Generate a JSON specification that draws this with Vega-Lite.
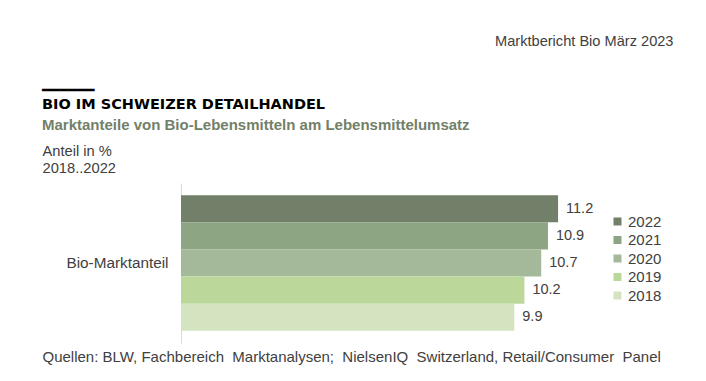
{
  "$schema": "https://vega.github.io/schema/vega-lite/v6.json",
  "autosize": "none",
  "width": 404,
  "height": 160,
  "padding": {"left": 181, "top": 183, "right": 121, "bottom": 38},
  "background": "white",
  "config": {"view": {"stroke": null}, "font": "Liberation Sans"},
  "title": {
    "text": ["━━━━━━", "BIO IM SCHWEIZER DETAILHANDEL"],
    "subtitle": "Marktanteile von Bio-Lebensmitteln am Lebensmittelumsatz",
    "anchor": "start",
    "frame": "group",
    "dx": -139,
    "dy": 111,
    "offset": 10,
    "font": "DejaVu Sans",
    "fontSize": 14.5,
    "fontWeight": "bold",
    "color": "#000000",
    "lineHeight": 14,
    "subtitleFont": "Liberation Sans",
    "subtitleFontSize": 15,
    "subtitleFontWeight": "bold",
    "subtitleColor": "#728068",
    "subtitlePadding": 6
  },
  "data": {
    "values": [
      {"cat": "Bio-Marktanteil", "year": "2022", "value": 11.2},
      {"cat": "Bio-Marktanteil", "year": "2021", "value": 10.9},
      {"cat": "Bio-Marktanteil", "year": "2020", "value": 10.7},
      {"cat": "Bio-Marktanteil", "year": "2019", "value": 10.2},
      {"cat": "Bio-Marktanteil", "year": "2018", "value": 9.9}
    ]
  },
  "encoding": {
    "y": {
      "field": "cat",
      "type": "nominal",
      "scale": {"paddingInner": 0, "paddingOuter": 0.09},
      "axis": {
        "title": ["Anteil in %", "2018..2022"],
        "titleAngle": 0,
        "titleX": -139,
        "titleY": -28,
        "titleAlign": "left",
        "titleBaseline": "alphabetic",
        "titleFontSize": 14.7,
        "titleFontWeight": "normal",
        "titleColor": "#404040",
        "titleLineHeight": 17,
        "labelFontSize": 15.3,
        "labelColor": "#404040",
        "labelPadding": 13,
        "ticks": false,
        "domainColor": "#d9d9d9",
        "domainWidth": 1
      }
    },
    "yOffset": {
      "field": "year",
      "type": "nominal",
      "sort": "descending",
      "scale": {"paddingInner": 0, "paddingOuter": 0}
    }
  },
  "layer": [
    {
      "mark": {"type": "bar"},
      "encoding": {
        "x": {
          "field": "value",
          "type": "quantitative",
          "scale": {"domain": [0, 12]},
          "axis": {
            "orient": "bottom",
            "domain": false,
            "ticks": false,
            "labels": false,
            "grid": false,
            "title": "Quellen: BLW, Fachbereich\u00a0 Marktanalysen;\u00a0 NielsenIQ\u00a0 Switzerland, Retail/Consumer\u00a0 Panel",
            "titleX": -139,
            "titleY": 18,
            "titleAlign": "left",
            "titleBaseline": "alphabetic",
            "titleFontSize": 15,
            "titleFontWeight": "normal",
            "titleColor": "#404040"
          }
        },
        "color": {
          "field": "year",
          "type": "nominal",
          "scale": {
            "domain": ["2022", "2021", "2020", "2019", "2018"],
            "range": ["#727f69", "#8ea584", "#a4b99a", "#bcd79a", "#d4e4c0"]
          },
          "legend": {
            "title": null,
            "orient": "none",
            "legendX": 429,
            "legendY": 31,
            "symbolType": "square",
            "symbolSize": 64,
            "symbolStrokeWidth": 0,
            "labelFontSize": 15,
            "labelColor": "#404040",
            "labelOffset": 3,
            "rowPadding": 2.5
          }
        }
      }
    },
    {
      "mark": {"type": "text", "align": "left", "baseline": "middle", "dx": 8, "fontSize": 14.5, "color": "#404040"},
      "encoding": {
        "x": {
          "field": "value",
          "type": "quantitative",
          "axis": {
            "orient": "top",
            "domain": false,
            "ticks": false,
            "labels": false,
            "grid": false,
            "title": "Marktbericht Bio März 2023",
            "titleX": 492,
            "titleY": -138,
            "titleAlign": "right",
            "titleBaseline": "alphabetic",
            "titleFontSize": 14.6,
            "titleFontWeight": "normal",
            "titleColor": "#404040"
          }
        },
        "text": {"field": "value", "type": "quantitative", "format": ".1f"}
      }
    }
  ],
  "resolve": {"axis": {"x": "independent"}}
}
